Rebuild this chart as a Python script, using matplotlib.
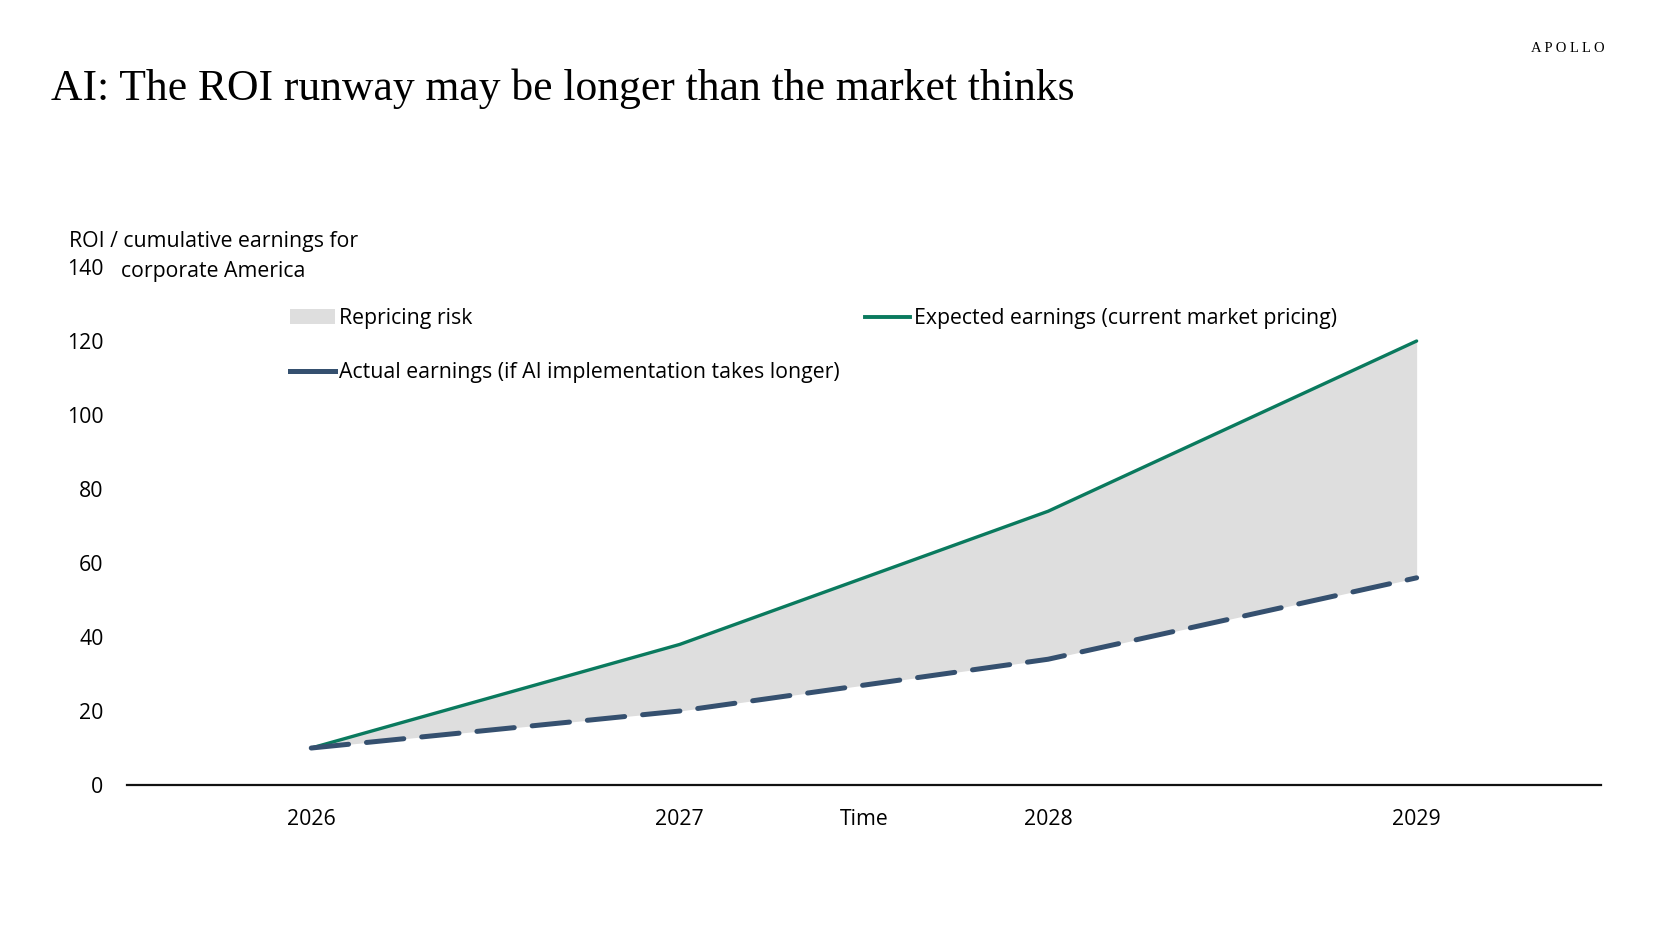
import matplotlib.pyplot as plt
from matplotlib.patches import Patch
from matplotlib.lines import Line2D

years = [2026, 2027, 2028, 2029]
expected = [10, 38, 74, 120]
actual = [10, 20, 34, 56]
yticks = [0, 20, 40, 60, 80, 100, 120, 140]

green = "#0a7a5e"
navy = "#35506f"
grey = "#dedede"

plt.rcParams['font.family'] = ['Open Sans', 'DejaVu Sans']
fs = 15.3

fig = plt.figure(figsize=(16.56, 9.32), dpi=100)
ax = fig.add_axes([0.0767, 0.1577, 0.89, 0.5558])

ax.fill_between(years, actual, expected, color=grey, lw=0)
ax.plot(years, expected, color=green, lw=2.4, solid_capstyle='round')
ax.plot(years, actual, color=navy, lw=3.6, dashes=(7.5, 3.6), dash_capstyle='round')

ax.set_xlim(2025.5, 2029.5)
ax.set_ylim(0, 140)
ax.set_xticks(years)
ax.set_xticklabels([str(y) for y in years])
ax.set_yticks(yticks)
ax.tick_params(axis='both', length=0, labelsize=fs, colors='black')
ax.tick_params(axis='x', pad=17)
ax.tick_params(axis='y', pad=17)
for side in ['top', 'right', 'left']:
    ax.spines[side].set_visible(False)
ax.spines['bottom'].set_linewidth(1.6)
ax.spines['bottom'].set_color('#111111')

# "Time" sits on the same row as the year labels
ax.annotate('Time', xy=(0.5, 0), xycoords='axes fraction', xytext=(0, -25),
            textcoords='offset points', ha='center', va='center', fontsize=fs)

fig.text(0.129, 0.7406, 'ROI / cumulative earnings for', fontsize=fs, ha='center', va='center')
fig.text(0.129, 0.7088, 'corporate America', fontsize=fs, ha='center', va='center')

handles = [Patch(color=grey, lw=0),
           Line2D([], [], color=navy, lw=3.6),
           Line2D([], [], color=green, lw=2.8)]
labels = ['Repricing risk',
          'Actual earnings (if AI implementation takes longer)',
          'Expected earnings (current market pricing)']
ax.legend(handles, labels, ncol=2, loc='upper left', bbox_to_anchor=(0.105, 0.937),
          frameon=False, fontsize=fs, handlelength=2.1, handletextpad=0.2,
          columnspacing=1.2, labelspacing=1.56, borderaxespad=0)

fig.text(0.031, 0.893, 'AI: The ROI runway may be longer than the market thinks',
         family='Liberation Serif', fontsize=31.4, ha='left', va='baseline')
fig.text(0.969, 0.948, 'A P O L L O', family='Liberation Serif', fontsize=10.5,
         ha='right', va='center')

fig.savefig('out.png', dpi=100)
